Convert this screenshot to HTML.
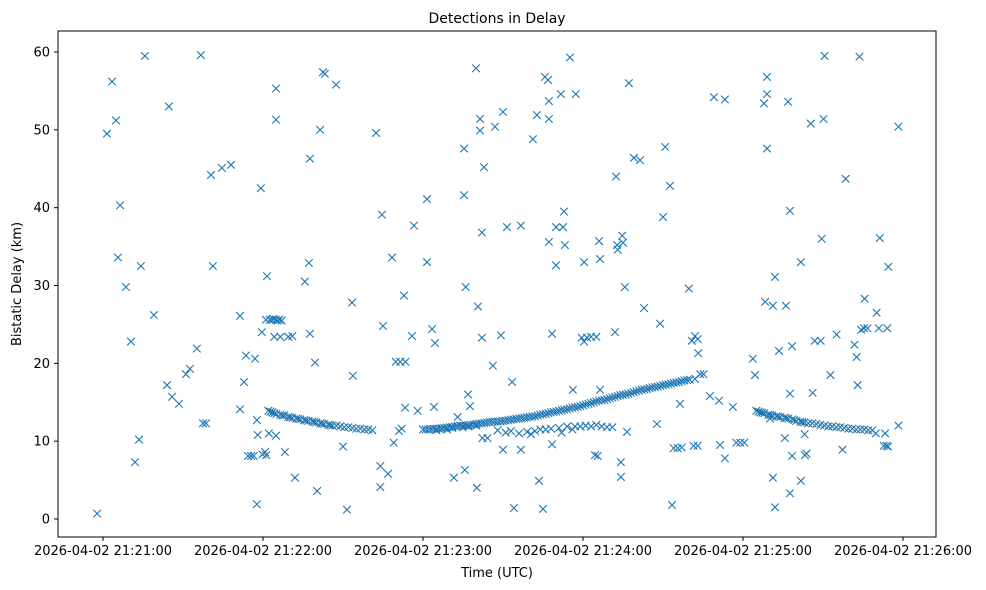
<!DOCTYPE html>
<html><head><meta charset="utf-8"><style>
html,body{margin:0;padding:0;background:#fff;}
svg{display:block;font-family:"DejaVu Sans","Liberation Sans",sans-serif;}
</style></head><body>
<svg id="chart" width="986" height="590" viewBox="0 0 986 590" xmlns="http://www.w3.org/2000/svg">
<rect x="0" y="0" width="986" height="590" fill="#fff"/>
<text x="497" y="23" text-anchor="middle" font-size="14" fill="#000">Detections in Delay</text>
<text x="497" y="577" text-anchor="middle" font-size="13" fill="#000">Time (UTC)</text>
<text transform="translate(21,284) rotate(-90)" text-anchor="middle" font-size="13" fill="#000">Bistatic Delay (km)</text>
<g id="marks"></g>
<g id="axes"></g>
<rect x="58" y="31" width="878" height="506" fill="none" stroke="#000" stroke-width="1"/>
</svg>
<script>
const xTickSeconds = [0, 60, 120, 180, 240, 300];
const xTickLabels = ["2026-04-02 21:21:00","2026-04-02 21:22:00","2026-04-02 21:23:00","2026-04-02 21:24:00","2026-04-02 21:25:00","2026-04-02 21:26:00"];
const yTicks = [0, 10, 20, 30, 40, 50, 60];
const yTickLabels = ["0","10","20","30","40","50","60"];
// [seconds after 21:21:00, delay km]
const scatterDetections = [[-2.2,0.7],[1.5,49.5],[3.4,56.2],[4.9,51.2],[6.4,40.3],[5.6,33.6],[8.6,29.8],[10.5,22.8],[12,7.3],[13.5,10.2],[14.2,32.5],[15.7,59.5],[19.1,26.2],[24.7,53],[24,17.2],[25.9,15.7],[28.5,14.8],[31.1,18.6],[32.6,19.3],[35.2,21.9],[36.7,59.6],[37.5,12.3],[38.6,12.3],[40.5,44.2],[41.2,32.5],[44.6,45.1],[48,45.5],[51.4,26.1],[51.4,14.1],[52.9,17.6],[53.6,21],[54.4,8.1],[55.5,8.1],[56.5,8.1],[57,20.6],[57.7,12.7],[58,10.8],[57.7,1.9],[59.2,42.5],[59.8,8.3],[60.8,8.6],[61.2,8.2],[59.6,24],[61.5,31.2],[61.1,25.6],[62.2,11],[64.9,55.3],[64.9,51.3],[64.9,10.7],[62.5,25.6],[63.3,25.6],[64,25.7],[64.8,25.6],[65.5,25.5],[66.2,25.6],[67,25.5],[64.2,23.4],[66.5,23.4],[68.2,8.6],[69.5,23.4],[71,23.5],[72,5.3],[75.7,30.5],[77.2,32.9],[77.6,46.3],[77.6,23.8],[79.5,20.1],[80.3,3.6],[81.4,50],[82.5,57.4],[83.2,57.2],[87.4,55.8],[90,9.3],[91.5,1.2],[93.4,27.8],[93.7,18.4],[102.4,49.6],[104,6.8],[104,4.1],[104.6,39.1],[105,24.8],[106.9,5.8],[108.4,33.6],[109,9.8],[109.8,20.2],[111,11.3],[112,11.6],[111.5,20.2],[113.4,20.2],[112.9,28.7],[113.3,14.3],[116.6,37.7],[115.9,23.5],[118,13.9],[121.5,41.1],[121.5,33],[123.4,24.4],[124.5,22.6],[124.1,14.4],[131.6,5.3],[133,13.1],[135.4,47.6],[135.4,41.6],[136,29.8],[135.7,6.3],[136.9,16],[137.6,14.5],[139.9,57.9],[140.2,4],[140.6,27.3],[141.4,51.4],[141.4,49.9],[142.1,36.8],[142.1,23.3],[142.9,45.2],[142.3,10.4],[144.2,10.4],[146.2,19.7],[147,50.4],[150,52.3],[149.2,23.6],[150,8.9],[151.5,37.5],[153.4,17.6],[154.1,1.4],[156.7,37.7],[156.7,8.9],[161.2,48.8],[162.7,51.9],[163.5,4.9],[165,1.3],[165.7,56.8],[166.9,56.4],[167.2,53.7],[167.2,51.4],[167.2,35.6],[168.4,23.8],[168.4,9.6],[169.9,37.5],[169.9,32.6],[171.7,54.6],[172.9,39.5],[172.5,37.5],[173.2,35.2],[175.1,59.3],[177.3,54.6],[176.2,16.6],[179.5,23.3],[180.4,22.8],[181.5,23.3],[180.4,33],[183,23.4],[185,23.4],[184.5,8.2],[185.5,8.1],[186,35.7],[186.4,16.6],[186.4,33.4],[192.4,44],[192,24],[192.8,35.2],[194.7,36.4],[195,35.5],[193,34.6],[194.2,7.3],[194.2,5.4],[195.7,29.8],[196.5,11.2],[197.2,56],[199.1,46.4],[201.4,46.1],[202.9,27.1],[207.7,12.2],[208.9,25.1],[210,38.8],[210.8,47.8],[212.6,42.8],[213.4,1.8],[216.4,14.8],[214,9.1],[215.5,9.1],[217,9.2],[219.7,29.6],[220.8,22.9],[222,23.5],[223,23.1],[221.5,9.4],[223,9.4],[223.2,21.3],[224,18.6],[225.2,18.6],[227.6,15.8],[229.1,54.2],[231,15.2],[231.4,9.5],[233.2,7.8],[233.2,53.9],[236.2,14.4],[237.5,9.8],[239,9.8],[240.5,9.8],[243.7,20.6],[244.5,18.5],[247.9,53.4],[249,56.8],[249,54.6],[249,47.6],[248.3,27.9],[250.1,12.9],[251.2,27.4],[251.2,5.3],[252,31.1],[252,1.5],[253.5,21.6],[256.1,27.4],[256.9,53.6],[255.7,10.4],[257.6,39.6],[257.6,16.1],[258.4,8.1],[257.6,3.3],[258.4,22.2],[261.7,33],[261.7,4.9],[263.2,8.2],[263.8,8.4],[263.1,10.9],[265.4,50.8],[266.1,16.2],[266.9,22.9],[269.1,22.9],[269.5,36],[270.2,51.4],[270.6,59.5],[272.8,18.5],[275.1,23.7],[277.3,8.9],[278.5,43.7],[281.8,22.4],[282.6,20.8],[283,17.2],[283.7,59.4],[284.3,24.3],[285.4,24.5],[285.6,28.3],[286.7,24.5],[290.1,26.5],[290.9,24.5],[289.8,11],[291.3,36.1],[292.8,9.4],[293.8,9.4],[294.4,9.3],[294.1,24.5],[294.5,32.4],[293.3,11],[298.3,50.4],[298.3,12]];
const trackA = [[62,13.9],[62.8,13.8],[63.5,13.7],[64.2,13.6],[65,13.5],[66.5,13.4],[67.2,13.3],[68,13.3],[69.5,13.1],[70.2,13.05],[71,13.0],[72.5,12.9],[73.2,12.85],[74,12.8],[75.5,12.7],[76.2,12.65],[77,12.6],[78.5,12.5],[79.2,12.45],[80,12.4],[81.5,12.3],[82.2,12.25],[83,12.2],[84.5,12.1],[85.2,12.05],[86,12.0],[87.5,12.0],[89,11.9],[90.5,11.8],[92,11.8],[93.5,11.7],[95,11.6],[96.5,11.6],[98,11.5],[99.5,11.5],[101,11.4]];
const trackB = [[120,11.5],[121,11.5],[122,11.5],[123,11.55],[124,11.6],[125,11.6],[126,11.6],[127,11.65],[128,11.7],[129,11.75],[130,11.8],[131,11.85],[132,11.9],[133,11.95],[134,12.0],[135,12.0],[136,12.0],[137,12.05],[138,12.1],[139,12.15],[140,12.2],[141,12.25],[142,12.3],[143,12.35],[144,12.4],[145,12.45],[146,12.5],[147,12.5],[148,12.5],[149,12.55],[150,12.6],[151,12.65],[152,12.7],[153,12.75],[154,12.8],[155,12.85],[156,12.9],[157,12.95],[158,13.0],[159,13.05],[160,13.1],[161,13.15],[162,13.2],[163,13.3],[164,13.4],[165,13.45],[166,13.5],[167,13.6],[168,13.7],[169,13.75],[170,13.8],[171,13.9],[172,14.0],[173,14.05],[174,14.1],[175,14.2],[176,14.3],[177,14.35],[178,14.4],[179,14.5],[180,14.6],[181,14.7],[182,14.8],[183,14.9],[184,15.0],[185,15.1],[186,15.2],[187,15.25],[188,15.3],[189,15.4],[190,15.5],[191,15.6],[192,15.7],[193,15.8],[194,15.9],[195,15.95],[196,16.0],[197,16.1],[198,16.2],[199,16.3],[200,16.4],[201,16.5],[202,16.6],[203,16.65],[204,16.7],[205,16.8],[206,16.9],[207,16.95],[208,17.0],[209,17.1],[210,17.2],[211,17.25],[212,17.3],[213,17.4],[214,17.5],[215,17.55],[216,17.6],[217,17.7],[218,17.8],[219,17.85],[220,17.9],[222,18.0]];
const lowerBand = [[125,11.4],[127,11.6],[129,11.5],[131,11.7],[133,11.9],[135,11.8],[137,11.9],[140,12.0],[148,11.4],[151,11.1],[153,11.3],[156,11.0],[159,11.2],[160.5,10.9],[162,11.3],[164,11.5],[166,11.5],[168,11.6],[171,11.7],[172,11.1],[174,11.9],[176,11.5],[177,11.9],[179,11.9],[181,12.0],[183,11.9],[185,12.1],[187,11.9],[189,11.8],[191,11.8]];
const trackC = [[245,13.9],[245.8,13.8],[246.5,13.7],[247.2,13.65],[248,13.6],[249.5,13.4],[250.2,13.35],[251,13.3],[252.5,13.2],[253.2,13.15],[254,13.1],[255.5,13.0],[256.2,12.95],[257,12.9],[258.5,12.8],[259.2,12.7],[260,12.6],[261.5,12.5],[262.2,12.45],[263,12.4],[264.5,12.3],[266,12.3],[267.5,12.2],[269,12.1],[270.5,12.0],[272,11.9],[273.5,11.9],[275,11.8],[276.5,11.8],[278,11.7],[279.5,11.6],[281,11.6],[282.5,11.5],[284,11.5],[285.5,11.5],[287,11.4],[288.5,11.4]];

const NS = "http://www.w3.org/2000/svg";
const xPx = s => 103 + s * (160 / 60);
const yPx = d => 519 - d * (467 / 60);
const marks = document.getElementById('marks');
const axes = document.getElementById('axes');

function drawGroup(arr, name) {
  arr.forEach(p => {
    const cx = xPx(p[0]), cy = yPx(p[1]);
    const el = document.createElementNS(NS, 'path');
    el.setAttribute('d', `M${cx-3.8},${cy-3.8}L${cx+3.8},${cy+3.8}M${cx-3.8},${cy+3.8}L${cx+3.8},${cy-3.8}`);
    el.setAttribute('stroke', '#1f77b4');
    el.setAttribute('stroke-width', '1.1');
    el.setAttribute('fill', 'none');
    
    
    marks.appendChild(el);
  });
}
drawGroup(scatterDetections, 'detection-marker');
drawGroup(trackA, 'track-a-marker');
drawGroup(trackB, 'track-b-marker');
drawGroup(lowerBand, 'lower-band-marker');
drawGroup(trackC, 'track-c-marker');

xTickSeconds.forEach((s, i) => {
  const x = xPx(s);
  const t = document.createElementNS(NS, 'line');
  t.setAttribute('x1', x); t.setAttribute('x2', x); t.setAttribute('y1', 537); t.setAttribute('y2', 541);
  t.setAttribute('stroke', '#000');
  
  
  axes.appendChild(t);
  const l = document.createElementNS(NS, 'text');
  l.setAttribute('x', x); l.setAttribute('y', 555); l.setAttribute('text-anchor', 'middle'); l.setAttribute('font-size', '13');
  l.textContent = xTickLabels[i];
  
  
  axes.appendChild(l);
});
yTicks.forEach((v, i) => {
  const y = yPx(v);
  const t = document.createElementNS(NS, 'line');
  t.setAttribute('x1', 54); t.setAttribute('x2', 58); t.setAttribute('y1', y); t.setAttribute('y2', y);
  t.setAttribute('stroke', '#000');
  
  
  axes.appendChild(t);
  const l = document.createElementNS(NS, 'text');
  l.setAttribute('x', 50); l.setAttribute('y', y + 4.5); l.setAttribute('text-anchor', 'end'); l.setAttribute('font-size', '13');
  l.textContent = yTickLabels[i];
  
  
  axes.appendChild(l);
});
</script>
</body></html>
